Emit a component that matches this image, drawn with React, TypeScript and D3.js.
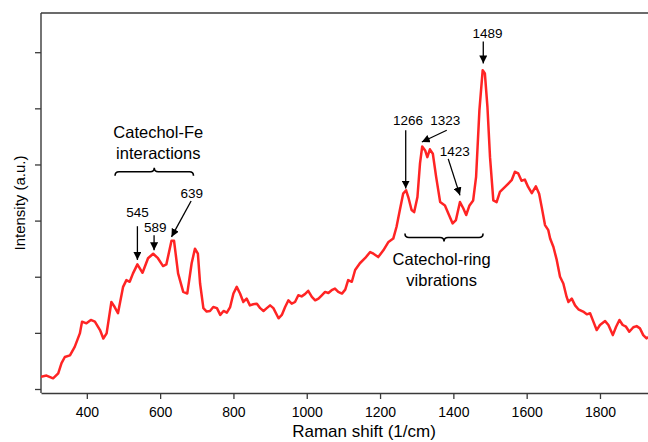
import React, { useEffect, useRef } from "react";
import * as d3 from "d3";

// Raman spectrum (wavenumber in 1/cm, intensity in a.u.)
const ramanShift = [
  275, 290, 308, 322, 331, 340, 354, 367, 381, 387,
  399, 411, 422, 436, 445, 454, 467, 476, 485, 499,
  508, 517, 526, 538, 552, 567, 581, 594, 608, 617,
  631, 638, 649, 663, 674, 686, 695, 703, 709, 718,
  727, 736, 745, 755, 764, 773, 782, 791, 800, 809,
  818, 827, 836, 845, 854, 864, 873, 882, 891, 900,
  909, 923, 932, 941, 950, 959, 968, 977, 986, 995,
  1004, 1014, 1023, 1032, 1041, 1050, 1059, 1068, 1077, 1086,
  1096, 1105, 1113, 1123, 1132, 1145, 1159, 1173, 1182, 1195,
  1209, 1223, 1236, 1245, 1254, 1263, 1271, 1277, 1286, 1293,
  1302, 1309, 1315, 1323, 1329, 1336, 1344, 1353, 1364, 1377,
  1386, 1398, 1407, 1418, 1427, 1435, 1444, 1454, 1462, 1471,
  1480, 1486, 1493, 1500, 1509, 1518, 1527, 1541, 1550, 1559,
  1568, 1577, 1586, 1595, 1604, 1614, 1625, 1634, 1641, 1650,
  1659, 1664, 1673, 1682, 1691, 1700, 1709, 1714, 1723, 1732,
  1741, 1754, 1764, 1773, 1782, 1791, 1800, 1814, 1823, 1835,
  1844, 1853, 1862, 1871, 1880, 1891, 1900, 1909, 1918, 1927, 1931,
];

const intensity = [
  0.22, 0.24, 0.19, 0.28, 0.46, 0.57, 0.6, 0.75, 0.99, 1.2,
  1.17, 1.23, 1.2, 1.05, 0.9, 0.99, 1.55, 1.46, 1.35, 1.82,
  1.94, 1.91, 2.06, 2.22, 2.07, 2.33, 2.41, 2.33, 2.19, 2.22,
  2.64, 2.64, 2.06, 1.73, 1.7, 2.24, 2.5, 2.41, 1.88, 1.44,
  1.38, 1.39, 1.46, 1.44, 1.32, 1.39, 1.36, 1.46, 1.7, 1.82,
  1.7, 1.55, 1.61, 1.49, 1.51, 1.52, 1.44, 1.39, 1.44, 1.49,
  1.44, 1.26, 1.32, 1.46, 1.58, 1.52, 1.55, 1.67, 1.65, 1.69,
  1.75, 1.64, 1.58, 1.61, 1.67, 1.73, 1.71, 1.76, 1.79, 1.73,
  1.7, 1.77, 1.94, 1.91, 2.12, 2.24, 2.33, 2.44, 2.41, 2.35,
  2.47, 2.62, 2.68, 2.89, 3.19, 3.48, 3.54, 3.42, 3.19, 3.15,
  3.42, 4.02, 4.32, 4.25, 4.13, 4.27, 4.19, 3.78, 3.33, 3.27,
  3.13, 2.95, 3.01, 3.33, 3.22, 3.1, 3.27, 3.36, 3.78, 4.96,
  5.68, 5.62, 5.02, 4.13, 3.36, 3.33, 3.51, 3.6, 3.66, 3.72,
  3.87, 3.84, 3.71, 3.73, 3.6, 3.49, 3.61, 3.48, 3.24, 2.92,
  2.83, 2.68, 2.53, 2.3, 2.0, 1.88, 1.64, 1.55, 1.61, 1.49,
  1.42, 1.38, 1.33, 1.35, 1.2, 1.05, 1.14, 1.21, 1.14, 0.96,
  1.11, 1.23, 1.14, 1.11, 1.02, 1.1, 1.12, 1.08, 0.96, 0.9, 0.93,
];

const xTicks = [400, 600, 800, 1000, 1200, 1400, 1600, 1800];
const yTicks = [0, 1, 2, 3, 4, 5, 6];

const peakLabels = ["545", "589", "639", "1266", "1323", "1423", "1489"];

// annotation layout in chart units: label anchor, arrow tail, arrow tip
const peakArrows = [
  { text: [538, 3.07], from: [538, 2.9], to: [538, 2.3] },
  { text: [587, 2.8], from: [583.5, 2.74], to: [583.5, 2.47] },
  { text: [686, 3.4], from: [684.5, 3.35], to: [631, 2.71] },
  { text: [1276, 4.7], from: [1270, 4.61], to: [1270, 3.57] },
  { text: [1378, 4.7], from: [1382, 4.61], to: [1314, 4.4] },
  { text: [1404, 4.15], from: [1386, 4.1], to: [1418, 3.45] },
  { text: [1493, 6.25], from: [1481.6, 6.19], to: [1481.6, 5.8] },
];

const W = 648;
const H = 442;
const FONT = "'Liberation Sans', Arial, Helvetica, sans-serif";

const App: React.FC = () => {
  const svgRef = useRef<SVGSVGElement | null>(null);

  useEffect(() => {
    if (!svgRef.current) return;
    const svg = d3.select(svgRef.current);
    svg.selectAll("*").remove();

    const left = 41;
    const right = 648;
    const top = 13;
    const bottom = 393;

    const x = d3.scaleLinear().domain([275, 1931]).range([left, right]);
    const y = d3.scaleLinear().domain([0, 6]).range([389, 52.2]);

    const axisColor = "#3a3a3a";

    const defs = svg.append("defs");
    defs
      .append("marker")
      .attr("id", "head")
      .attr("viewBox", "0 0 10 10")
      .attr("refX", 10)
      .attr("refY", 5)
      .attr("markerWidth", 8)
      .attr("markerHeight", 8)
      .attr("markerUnits", "userSpaceOnUse")
      .attr("orient", "auto")
      .append("path")
      .attr("d", "M0,0 L10,5 L0,10 Z")
      .attr("fill", "#000");

    defs
      .append("clipPath")
      .attr("id", "plot")
      .append("rect")
      .attr("x", left)
      .attr("y", top)
      .attr("width", right - left)
      .attr("height", bottom - top);

    // frame
    svg
      .append("line")
      .attr("x1", left)
      .attr("x2", right)
      .attr("y1", top)
      .attr("y2", top)
      .attr("stroke", axisColor)
      .attr("stroke-width", 1.4);

    const xAxis = svg
      .append("g")
      .attr("transform", `translate(0,${bottom})`)
      .call(
        d3
          .axisBottom(x)
          .tickValues(xTicks)
          .tickSize(6)
          .tickSizeOuter(0)
          .tickPadding(8)
          .tickFormat((d) => String(d))
      );
    xAxis.select(".domain").attr("stroke", axisColor).attr("stroke-width", 1.4);
    xAxis.selectAll(".tick line").attr("stroke", axisColor).attr("stroke-width", 1.3);
    xAxis
      .selectAll(".tick text")
      .attr("font-family", FONT)
      .attr("font-size", "14px")
      .attr("fill", "#000");

    const yAxis = svg
      .append("g")
      .attr("transform", `translate(${left},0)`)
      .call(
        d3
          .axisLeft(y)
          .tickValues(yTicks)
          .tickSize(6)
          .tickSizeOuter(0)
          .tickFormat(() => "")
      );
    yAxis
      .select(".domain")
      .attr("d", `M0,${top}V${bottom}`)
      .attr("stroke", axisColor)
      .attr("stroke-width", 1.4);
    yAxis.selectAll(".tick line").attr("stroke", axisColor).attr("stroke-width", 1.3);

    // axis titles
    svg
      .append("text")
      .attr("x", 364)
      .attr("y", 437)
      .attr("text-anchor", "middle")
      .attr("font-family", FONT)
      .attr("font-size", "17px")
      .text("Raman shift (1/cm)");

    svg
      .append("text")
      .attr("transform", `translate(25,${203}) rotate(-90)`)
      .attr("text-anchor", "middle")
      .attr("font-family", FONT)
      .attr("font-size", "15px")
      .text("Intensity (a.u.)");

    // spectrum
    const pts: [number, number][] = ramanShift.map((v, i) => [v, intensity[i]]);
    const line = d3
      .line<[number, number]>()
      .x((d) => x(d[0]))
      .y((d) => y(d[1]))
      .curve(d3.curveLinear);

    svg
      .append("path")
      .datum(pts)
      .attr("clip-path", "url(#plot)")
      .attr("d", line)
      .attr("fill", "none")
      .attr("stroke", "#ff2424")
      .attr("stroke-width", 2.5)
      .attr("stroke-linejoin", "round");

    // peak arrows + labels
    peakArrows.forEach((a, i) => {
      svg
        .append("line")
        .attr("x1", x(a.from[0]))
        .attr("y1", y(a.from[1]))
        .attr("x2", x(a.to[0]))
        .attr("y2", y(a.to[1]))
        .attr("stroke", "#000")
        .attr("stroke-width", 1.3)
        .attr("marker-end", "url(#head)");
      svg
        .append("text")
        .attr("x", x(a.text[0]))
        .attr("y", y(a.text[1]))
        .attr("text-anchor", "middle")
        .attr("font-family", FONT)
        .attr("font-size", "13.5px")
        .text(peakLabels[i]);
    });

    // curly brace helper: dir -1 tip up, +1 tip down
    const brace = (x0: number, x1: number, yy: number, dir: number) => {
      const q = 4;
      const xc = (x0 + x1) / 2;
      const s = -dir;
      return (
        `M${x0},${yy + s * q} Q${x0},${yy} ${x0 + q},${yy} L${xc - q},${yy} ` +
        `Q${xc},${yy} ${xc},${yy - s * q} Q${xc},${yy} ${xc + q},${yy} ` +
        `L${x1 - q},${yy} Q${x1},${yy} ${x1},${yy + s * q}`
      );
    };

    const groups = [
      { lines: ["Catechol-Fe", "interactions"], span: [477, 691], at: 3.87, dir: -1, textX: 595, textY: [4.47, 4.1] },
      { lines: ["Catechol-ring", "vibrations"], span: [1268, 1481], at: 2.7, dir: 1, textX: 1368, textY: [2.21, 1.83] },
    ];

    groups.forEach((g) => {
      svg
        .append("path")
        .attr("d", brace(x(g.span[0]), x(g.span[1]), y(g.at), g.dir))
        .attr("fill", "none")
        .attr("stroke", "#000")
        .attr("stroke-width", 1.6);
      g.lines.forEach((t, j) => {
        svg
          .append("text")
          .attr("x", x(g.textX))
          .attr("y", y(g.textY[j]))
          .attr("text-anchor", "middle")
          .attr("font-family", FONT)
          .attr("font-size", "16.5px")
          .text(t);
      });
    });
  }, []);

  return (
    <svg
      ref={svgRef}
      width={W}
      height={H}
      style={{ position: "absolute", left: 0, top: 0, background: "#fff", display: "block" }}
    />
  );
};

export default App;
